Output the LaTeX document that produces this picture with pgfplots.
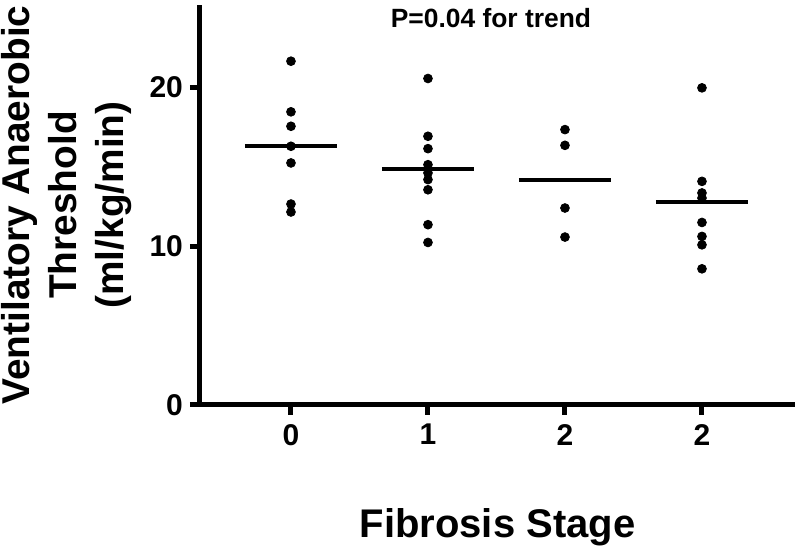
\documentclass[border=0pt]{standalone}
\usepackage{pgfplots}
\pgfplotsset{compat=1.18}
\usepackage{fontspec}
\setmainfont{Liberation Sans}
\begin{document}
\begin{tikzpicture}
\begin{axis}[
  scale only axis,
  width=297.5pt, height=200pt,
  xmin=-0.664, xmax=3.679,
  ymin=0, ymax=25.2,
  axis x line=bottom, axis y line=left,
  axis line style={-, line width=2.5pt},
  xtick={0,1,2,3}, xticklabels={0,1,2,2},
  ytick={0,10,20},
  tick style={line width=2.5pt, black},
  major tick length=5pt,
  tick align=outside,
  /pgf/number format/assume math mode=true,
  tick label style={font=\bfseries\fontsize{15}{15}\selectfont},
  xticklabel style={yshift=-1pt},
  clip=false,
  xlabel={Fibrosis Stage},
  xlabel style={at={(axis description cs:0.5,-0.3325)}, anchor=base, font=\bfseries\fontsize{20}{24}\selectfont},
  ylabel={Ventilatory Anaerobic\\Threshold\\(ml/kg/min)},
  ylabel style={at={(axis description cs:-0.225,0.5)}, anchor=center, rotate=0, align=center, font=\bfseries\fontsize{19.4}{23.5}\selectfont},
]
\coordinate (bl) at (rel axis cs:0,0);
\coordinate (tr) at (rel axis cs:1,1);
% points
\addplot[only marks, mark=*, mark size=2.2pt, black] coordinates {
 (0,21.66) (0,18.47) (0,17.56) (0,16.30) (0,15.25) (0,12.66) (0,12.16)
};
\addplot[only marks, mark=*, mark size=2.2pt, black] coordinates {
 (1,20.57) (1,16.93) (1,16.15) (1,15.14) (1,14.62) (1,14.20) (1,13.56) (1,11.36) (1,10.24)
};
\addplot[only marks, mark=*, mark size=2.2pt, black] coordinates {
 (2,17.35) (2,16.36) (2,12.41) (2,10.58)
};
\addplot[only marks, mark=*, mark size=2.2pt, black] coordinates {
 (3,19.98) (3,14.09) (3,13.36) (3,13.04) (3,11.50) (3,10.62) (3,10.09) (3,8.58)
};
% mean lines
\addplot[black, line width=2pt] coordinates {(-0.336,16.30) (0.336,16.30)};
\addplot[black, line width=2pt] coordinates {(0.664,14.87) (1.336,14.87)};
\addplot[black, line width=2pt] coordinates {(1.664,14.20) (2.336,14.20)};
\addplot[black, line width=2pt] coordinates {(2.664,12.78) (3.336,12.78)};
\node[anchor=base, font=\bfseries\fontsize{13.2}{15}\selectfont] at (axis description cs:0.489,0.945) {P=0.04 for trend};
\end{axis}
\pgfresetboundingbox
\path[use as bounding box] ([xshift=-100pt,yshift=-71pt]bl) rectangle ([xshift=2.5pt,yshift=2.5pt]tr);
\end{tikzpicture}
\end{document}
